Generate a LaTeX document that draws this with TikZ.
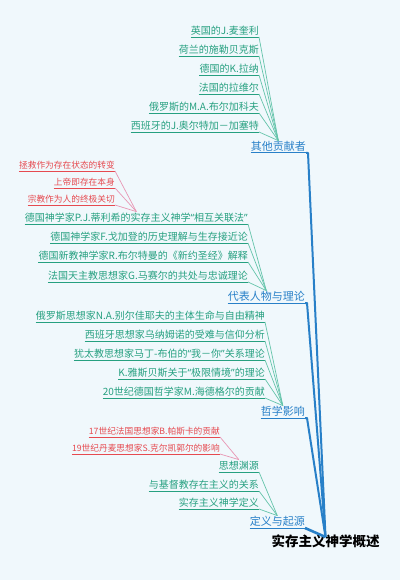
\documentclass[tikz,border=0pt]{standalone}
\usepackage{fontspec}
\setmainfont{Noto Sans CJK SC}
\newfontfamily\myqfont{Noto Sans}
\newcommand\myoq{{\myqfont “}}
\newcommand\mycq{{\myqfont ”}}
\definecolor{bg}{RGB}{240,248,252}
\definecolor{bluec}{RGB}{40,128,200}
\definecolor{tealc}{RGB}{38,160,128}
\definecolor{teall}{RGB}{100,196,170}
\definecolor{redc}{RGB}{230,74,80}
\definecolor{pinkl}{RGB}{232,150,180}
\begin{document}
\begin{tikzpicture}[x=1pt,y=-1pt,
 lbl/.style={inner xsep=0pt, inner ysep=1pt, anchor=south east, text height=0.88em, text depth=0.12em},
 rootn/.style={inner sep=0pt, anchor=north, font=\fontsize{13.5}{14}\selectfont\bfseries, text=black, text height=0.88em, text depth=0.12em},
 br/.style={lbl, font=\fontsize{11}{12}\selectfont, text=bluec},
 l2/.style={lbl, font=\fontsize{10}{11}\selectfont, text=tealc},
 l3/.style={lbl, font=\fontsize{8.7}{10}\selectfont, text=redc},
 bul/.style={draw=bluec, line width=1pt},
 tul/.style={draw=tealc, line width=0.8pt},
 rul/.style={draw=redc, line width=0.8pt},
 bline/.style={draw=bluec, line width=2pt, line join=round},
 tline/.style={draw=teall, line width=0.7pt},
 pline/.style={draw=pinkl, line width=0.7pt}]
\fill[bg] (0,0) rectangle (400,580);
\useasboundingbox (0,0) rectangle (400,580);

% root
\node[rootn] (root) at (325.5,537) {实存主义神学概述};

% main branches
\node[br] (b1) at (306,153) {其他贡献者};
\node[br] (b2) at (305,303) {代表人物与理论};
\node[br] (b3) at (305,418) {哲学影响};
\node[br] (b4) at (305,528) {定义与起源};

% other contributors
\node[l2] (c11) at (259,37) {英国的J.麦奎利};
\node[l2] (c12) at (259,56) {荷兰的施勒贝克斯};
\node[l2] (c13) at (259,75) {德国的K.拉纳};
\node[l2] (c14) at (259,94) {法国的拉维尔};
\node[l2] (c15) at (259,113) {俄罗斯的M.A.布尔加科夫};
\node[l2] (c16) at (259,132) {西班牙的J.奥尔特加－加塞特};

% representatives
\node[l2] (c21) at (248,224) {德国神学家P.J.蒂利希的实存主义神学\myoq 相互关联法\mycq};
\node[l2] (c22) at (248,243) {德国神学家F.戈加登的历史理解与生存接近论};
\node[l2] (c23) at (248,262) {德国新教神学家R.布尔特曼的《新约圣经》解释};
\node[l2] (c24) at (248,282) {法国天主教思想家G.马赛尔的共处与忠诚理论};

\node[l3] (d1) at (115,171) {拯救作为存在状态的转变};
\node[l3] (d2) at (115,188) {上帝即存在本身};
\node[l3] (d3) at (115,205) {宗教作为人的终极关切};

% philosophical influence
\node[l2] (c31) at (265,322) {俄罗斯思想家N.A.别尔佳耶夫的主体生命与自由精神};
\node[l2] (c32) at (265,341) {西班牙思想家乌纳姆诺的受难与信仰分析};
\node[l2] (c33) at (265,360) {犹太教思想家马丁-布伯的\myoq 我－你\mycq 关系理论};
\node[l2] (c34) at (265,379) {K.雅斯贝斯关于\myoq 极限情境\mycq 的理论};
\node[l2] (c35) at (265,398) {20世纪德国哲学家M.海德格尔的贡献};

% definition and origin
\node[l2] (c41) at (259,472) {思想渊源};
\node[l2] (c42) at (259,491) {与基督教存在主义的关系};
\node[l2] (c43) at (259,509) {实存主义神学定义};

\node[l3] (e1) at (220,437) {17世纪法国思想家B.帕斯卡的贡献};
\node[l3] (e2) at (220,454) {19世纪丹麦思想家S.克尔凯郭尔的影响};

% underlines
\foreach \n in {b1,b2,b3,b4} \draw[bul] (\n.south west) -- (\n.south east);
\foreach \n in {c11,c12,c13,c14,c15,c16,c21,c22,c23,c24,c31,c32,c33,c34,c35,c41,c42,c43}
  \draw[tul] (\n.south west) -- (\n.south east);
\foreach \n in {d1,d2,d3,e1,e2} \draw[rul] (\n.south west) -- (\n.south east);

% connectors
\foreach \n in {b1,b2,b3} \draw[bline] (\n.south east) -- ++(2,0) -- (root.north);
\draw[bline, line width=2.6pt] (b4.south east) -- (root.north);
\foreach \n in {c11,c12,c13,c14,c15,c16} \draw[tline] (\n.south east) -- (b1.north);
\foreach \n in {c21,c22,c23,c24} \draw[tline] (\n.south east) -- (b2.north);
\foreach \n in {c31,c32,c33,c34,c35} \draw[tline] (\n.south east) -- (b3.north);
\foreach \n in {c41,c42,c43} \draw[tline] (\n.south east) -- (b4.north);
\foreach \n in {d1,d2,d3} \draw[pline] (\n.south east) -- (c21.north);
\foreach \n in {e1,e2} \draw[pline] (\n.south east) -- (c41.north);
\end{tikzpicture}
\end{document}
